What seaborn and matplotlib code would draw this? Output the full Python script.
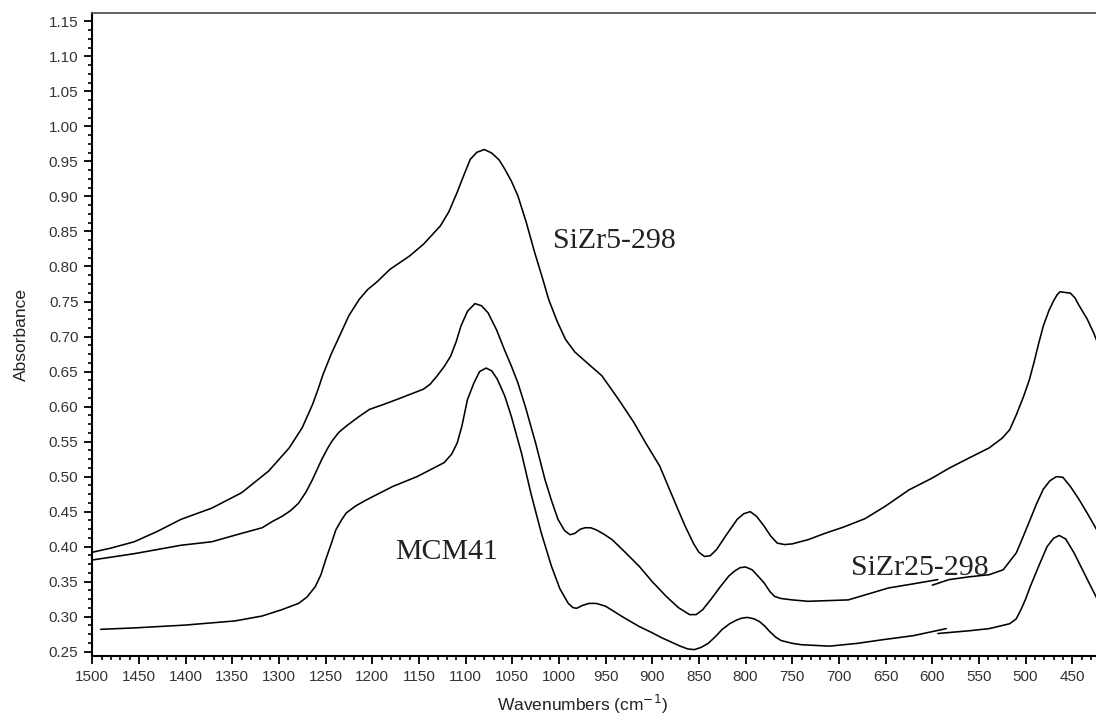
import numpy as np
import pandas as pd
import matplotlib
matplotlib.use("Agg")
import matplotlib.pyplot as plt
from matplotlib.ticker import AutoMinorLocator, FormatStrFormatter
import seaborn as sns

# ---------------- data ----------------
sizr5_wn = [1500, 1480, 1455, 1430, 1405, 1372, 1340, 1311, 1289, 1275, 1264, 1258,
            1253, 1244, 1235, 1225, 1214, 1205, 1195, 1181, 1160, 1145, 1127, 1118,
            1109, 1102, 1095, 1088, 1080, 1072, 1064, 1058, 1051, 1044, 1035, 1026,
            1018, 1011, 1002, 993, 983, 972, 954, 936, 920, 907, 892, 874, 865, 856,
            850, 844, 838, 831, 820, 809, 802, 795, 788, 780, 773, 766, 758, 750, 733,
            715, 695, 672, 650, 625, 600, 582, 560, 539, 525, 517, 510, 502, 496, 491,
            486, 481, 475, 470, 466, 463, 458, 452, 447, 443, 434, 427, 420, 413]
sizr5_abs = [0.392, 0.398, 0.407, 0.422, 0.439, 0.455, 0.477, 0.508, 0.541, 0.570,
             0.603, 0.625, 0.645, 0.675, 0.701, 0.730, 0.753, 0.767, 0.778, 0.796,
             0.815, 0.832, 0.858, 0.878, 0.906, 0.930, 0.953, 0.963, 0.967, 0.962,
             0.952, 0.939, 0.922, 0.901, 0.863, 0.820, 0.785, 0.753, 0.722, 0.696,
             0.678, 0.665, 0.644, 0.610, 0.578, 0.548, 0.515, 0.458, 0.430, 0.405,
             0.392, 0.386, 0.387, 0.396, 0.418, 0.439, 0.447, 0.450, 0.443, 0.429,
             0.415, 0.405, 0.403, 0.404, 0.410, 0.419, 0.428, 0.440, 0.458, 0.481,
             0.498, 0.512, 0.527, 0.541, 0.555, 0.567, 0.588, 0.615, 0.638, 0.663,
             0.690, 0.715, 0.737, 0.751, 0.760, 0.764, 0.763, 0.762, 0.755, 0.745,
             0.725, 0.705, 0.682, 0.663]

sizr25_wn_a = [1500, 1455, 1405, 1372, 1340, 1318, 1307, 1297, 1288, 1279, 1271, 1264,
               1254, 1248, 1243, 1236, 1228, 1215, 1203, 1188, 1170, 1145, 1138, 1131,
               1123, 1116, 1110, 1105, 1098, 1090, 1083, 1076, 1067, 1058, 1051, 1044,
               1036, 1025, 1015, 1008, 1001, 994, 988, 983, 977, 972, 966, 960, 952,
               943, 929, 914, 900, 885, 872, 860, 853, 846, 837, 827, 818, 812, 806,
               800, 793, 786, 780, 774, 769, 762, 750, 733, 690, 647, 620, 594]
sizr25_abs_a = [0.381, 0.390, 0.402, 0.407, 0.419, 0.427, 0.436, 0.443, 0.451, 0.462,
                0.478, 0.496, 0.525, 0.540, 0.551, 0.563, 0.572, 0.585, 0.596, 0.603,
                0.612, 0.625, 0.632, 0.643, 0.657, 0.672, 0.693, 0.715, 0.736, 0.747,
                0.744, 0.734, 0.710, 0.680, 0.658, 0.634, 0.600, 0.548, 0.496, 0.466,
                0.439, 0.423, 0.417, 0.419, 0.425, 0.427, 0.427, 0.424, 0.418, 0.410,
                0.392, 0.372, 0.350, 0.329, 0.313, 0.303, 0.303, 0.310, 0.325, 0.343,
                0.358, 0.365, 0.370, 0.371, 0.367, 0.357, 0.348, 0.336, 0.329, 0.326,
                0.324, 0.322, 0.324, 0.341, 0.347, 0.353]
sizr25_wn_b = [600, 582, 560, 539, 524, 510, 503, 495, 488, 481, 474, 467, 460, 452,
               443, 434, 425, 416, 413]
sizr25_abs_b = [0.345, 0.353, 0.357, 0.360, 0.367, 0.391, 0.413, 0.439, 0.462, 0.482,
                0.494, 0.500, 0.499, 0.486, 0.468, 0.448, 0.427, 0.405, 0.400]

mcm41_wn_a = [1491, 1455, 1401, 1347, 1318, 1297, 1279, 1270, 1261, 1255, 1250, 1244,
              1239, 1233, 1228, 1218, 1206, 1178, 1152, 1123, 1115, 1109, 1104, 1098,
              1091, 1085, 1078, 1072, 1066, 1058, 1051, 1040, 1030, 1019, 1008, 999,
              990, 985, 981, 975, 968, 960, 950, 932, 914, 900, 890, 880, 870, 862, 855,
              848, 840, 832, 825, 817, 810, 804, 798, 791, 785, 779, 775, 768, 762, 750,
              740, 710, 680, 654, 620, 585]
mcm41_abs_a = [0.282, 0.284, 0.288, 0.294, 0.301, 0.310, 0.319, 0.328, 0.343, 0.360,
               0.381, 0.404, 0.424, 0.438, 0.448, 0.458, 0.467, 0.486, 0.500, 0.520,
               0.532, 0.548, 0.572, 0.610, 0.634, 0.650, 0.655, 0.651, 0.639, 0.615,
               0.586, 0.533, 0.476, 0.420, 0.372, 0.340, 0.319, 0.313, 0.312, 0.316,
               0.319, 0.319, 0.315, 0.300, 0.286, 0.277, 0.270, 0.264, 0.258, 0.254,
               0.253, 0.256, 0.262, 0.272, 0.282, 0.290, 0.295, 0.298, 0.299, 0.297,
               0.293, 0.286, 0.280, 0.271, 0.266, 0.262, 0.260, 0.258, 0.262, 0.267,
               0.273, 0.283]
mcm41_wn_b = [594, 560, 539, 517, 510, 505, 500, 495, 486, 477, 470, 464, 457, 448,
              439, 430, 422, 414]
mcm41_abs_b = [0.276, 0.280, 0.283, 0.290, 0.297, 0.310, 0.325, 0.343, 0.372, 0.400,
               0.412, 0.416, 0.411, 0.391, 0.367, 0.343, 0.322, 0.305]

labels = ["SiZr5-298", "SiZr25-298", "MCM41"]
label_pos = [(1006, 0.827), (687, 0.360), (1175, 0.382)]  # baseline-left of each label

y_ticks = [0.25, 0.30, 0.35, 0.40, 0.45, 0.50, 0.55, 0.60, 0.65, 0.70, 0.75, 0.80,
           0.85, 0.90, 0.95, 1.00, 1.05, 1.10, 1.15]
x_ticks = list(range(1500, 400, -50))

# ---------------- figure ----------------
sns.set_style("white")
plt.rcParams["font.family"] = ["Liberation Sans", "DejaVu Sans"]

fig = plt.figure(figsize=(10.96, 7.19), dpi=100)
ax = fig.add_axes([0.0842, 0.0880, 0.9258, 0.8944])

segments = [
    (sizr5_wn, sizr5_abs),
    (sizr25_wn_a, sizr25_abs_a),
    (sizr25_wn_b, sizr25_abs_b),
    (mcm41_wn_a, mcm41_abs_a),
    (mcm41_wn_b, mcm41_abs_b),
]
for wn, ab in segments:
    df = pd.DataFrame({"wn": wn, "abs": ab})
    sns.lineplot(data=df, x="wn", y="abs", sort=False, estimator=None,
                 color="black", linewidth=1.15, ax=ax)

for txt, (xw, ya) in zip(labels, label_pos):
    ax.text(xw, ya, txt, family="Liberation Serif", fontsize=21.5,
            color="#222222", ha="left", va="baseline")

ax.set_xlim(1500, 412.8)
ax.set_ylim(0.2443, 1.1624)
ax.set_xticks(x_ticks)
ax.set_yticks(y_ticks)
ax.yaxis.set_major_formatter(FormatStrFormatter("%.2f"))
ax.xaxis.set_minor_locator(AutoMinorLocator(5))
ax.yaxis.set_minor_locator(AutoMinorLocator(4))

ax.tick_params(axis="both", which="major", direction="out", length=6, width=1.3,
               color="black", labelsize=11, labelcolor="#333333", pad=4)
ax.tick_params(axis="both", which="minor", direction="out", length=2.8, width=1.2,
               color="black")
ax.tick_params(axis="y", which="both", left=True, right=False)
ax.tick_params(axis="x", which="both", bottom=True, top=False)

for side in ["left", "bottom"]:
    ax.spines[side].set_color("black")
    ax.spines[side].set_linewidth(1.5)
ax.spines["top"].set_color("#555555")
ax.spines["top"].set_linewidth(1.3)
ax.spines["right"].set_visible(False)

ax.set_xlabel("Wavenumbers (cm$^{-1}$)", fontsize=12.5, color="#222222", labelpad=8)
ax.set_ylabel("Absorbance", fontsize=12.5, color="#222222", labelpad=14)
ax.xaxis.set_label_coords(0.4836, -0.058)

fig.savefig("out.png", dpi=100)
